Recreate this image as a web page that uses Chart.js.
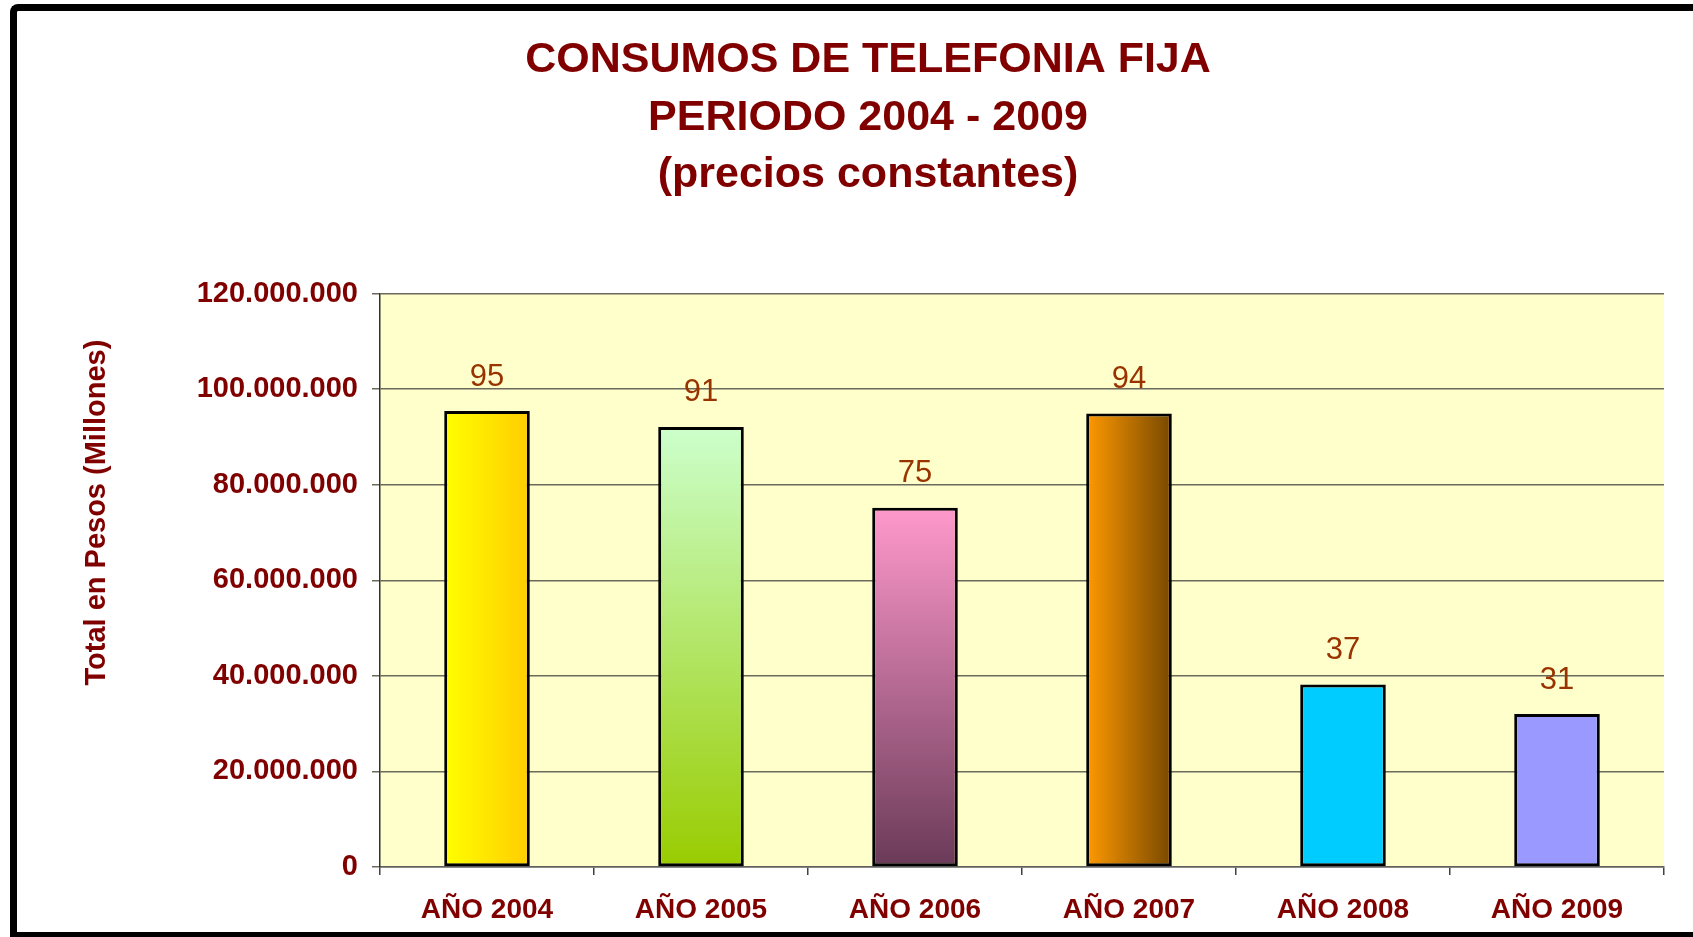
<!DOCTYPE html>
<html>
<head>
<meta charset="utf-8">
<title>Consumos de Telefonia Fija</title>
<script src="https://cdn.jsdelivr.net/npm/chart.js@4.4.1/dist/chart.umd.min.js"></script>
<style>
  html, body { margin: 0; padding: 0; background: #fff; overflow: hidden; }
  #wrap { position: relative; width: 1693px; height: 937px; }
  #chart { position: absolute; left: 0; top: 0; }
  #frame {
    position: absolute; left: 10px; top: 4px; width: 1720px; height: 921px;
    border-left: 7px solid #000; border-top: 7px solid #000; border-bottom: 7px solid #000;
    border-top-left-radius: 8px; pointer-events: none;
  }
</style>
</head>
<body>
<div id="wrap">
  <canvas id="chart" width="1693" height="937"></canvas>
  <div id="frame"></div>
</div>
<script>
// Datos del grafico
const categories = ['AÑO 2004', 'AÑO 2005', 'AÑO 2006', 'AÑO 2007', 'AÑO 2008', 'AÑO 2009'];
const totals = [95400000, 92100000, 75200000, 94900000, 38200000, 32000000];
const valueLabels = ['95', '91', '75', '94', '37', '31'];
const titleLines = ['CONSUMOS DE TELEFONIA FIJA', 'PERIODO 2004 - 2009', '(precios constantes)'];
const yTitle = 'Total en Pesos (Millones)';

// colores de cada barra: [inicio, fin, direccion]
const barColors = [
    ['#FFFF00', '#FFCC00', 'h'],
    ['#CCFFCC', '#99CC00', 'v'],
    ['#FF99CC', '#6A3A58', 'v'],
    ['#FF9900', '#774800', 'h'],
    ['#00CCFF', '#00CCFF', 'v'],
    ['#9999FF', '#9999FF', 'v']
];

const DARK_RED = '#800000';
const BAR_PCT = 0.40;
const FONT = '"Liberation Sans", Arial, sans-serif';

function formatMiles(v) {
    return String(v).replace(/\B(?=(\d{3})+(?!\d))/g, '.');
}

function barFill(context) {
    const i = context.dataIndex;
    if (i === undefined) return '#ccc';
    const c = barColors[i];
    const chart = context.chart;
    const xs = chart.scales.x, ys = chart.scales.y;
    if (!chart.chartArea || !xs || !ys) return c[0];
    const cx = xs.getPixelForValue(i);
    const half = (xs.width / categories.length) * BAR_PCT / 2;
    let g;
    if (c[2] === 'h') {
        g = chart.ctx.createLinearGradient(cx - half, 0, cx + half, 0);
    } else {
        g = chart.ctx.createLinearGradient(0, ys.getPixelForValue(totals[i]), 0, ys.getPixelForValue(0));
    }
    g.addColorStop(0, c[0]);
    g.addColorStop(1, c[1]);
    return g;
}

// fondo amarillo del area de trazado
const plotBackground = {
    id: 'plotBackground',
    beforeDraw(chart) {
        const a = chart.chartArea;
        const ctx = chart.ctx;
        ctx.save();
        ctx.fillStyle = '#FFFFCC';
        ctx.fillRect(a.left, a.top, a.right - a.left, a.bottom - a.top);
        ctx.restore();
    }
};

// etiquetas de valor sobre las barras + titulo del eje Y
const extraText = {
    id: 'extraText',
    afterDatasetsDraw(chart) {
        const ctx = chart.ctx;
        const meta = chart.getDatasetMeta(0);
        ctx.save();
        ctx.fillStyle = '#993300';
        ctx.font = '31px ' + FONT;
        ctx.textAlign = 'center';
        ctx.textBaseline = 'middle';
        meta.data.forEach((bar, i) => {
            ctx.fillText(valueLabels[i], bar.x, bar.y - 34);
        });
        ctx.restore();

        const a = chart.chartArea;
        ctx.save();
        ctx.translate(a.left - 283, a.top + 219);
        ctx.rotate(-Math.PI / 2);
        ctx.fillStyle = DARK_RED;
        ctx.font = 'bold 29px ' + FONT;
        ctx.textAlign = 'center';
        ctx.textBaseline = 'middle';
        ctx.fillText(yTitle, 0, 0);
        ctx.restore();
    }
};

const chart = new Chart(document.getElementById('chart'), {
    type: 'bar',
    data: {
        labels: categories,
        datasets: [{
            data: totals,
            backgroundColor: barFill,
            borderColor: '#000',
            borderWidth: 3,
            borderSkipped: false,
            categoryPercentage: 1,
            barPercentage: BAR_PCT
        }]
    },
    options: {
        responsive: false,
        animation: false,
        devicePixelRatio: 1,
        layout: { padding: { left: 72, right: 29, top: 0, bottom: 0 } },
        plugins: {
            legend: { display: false },
            tooltip: { enabled: false },
            title: {
                display: true,
                text: titleLines,
                color: DARK_RED,
                font: { family: FONT, size: 43, weight: 'bold', lineHeight: 1.33 },
                padding: { top: 32, bottom: 90 }
            }
        },
        scales: {
            x: {
                afterFit(scale) { scale.height = 70; },
                grid: { drawOnChartArea: false, drawTicks: true, tickLength: 8, color: '#404040', lineWidth: 1.5 },
                border: { color: '#606060', width: 1.5 },
                ticks: {
                    color: DARK_RED,
                    padding: 18,
                    maxRotation: 0,
                    font: { family: FONT, size: 28, weight: 'bold' }
                }
            },
            y: {
                min: 0,
                max: 120000000,
                afterFit(scale) { scale.width = 308; },
                grid: { color: '#6A6A5C', lineWidth: 1.5, tickLength: 8 },
                border: { color: '#303030', width: 1.5 },
                ticks: {
                    stepSize: 20000000,
                    color: DARK_RED,
                    padding: 14,
                    font: { family: FONT, size: 29, weight: 'bold' },
                    callback: v => formatMiles(v)
                }
            }
        }
    },
    plugins: [plotBackground, extraText]
});
</script>
</body>
</html>
